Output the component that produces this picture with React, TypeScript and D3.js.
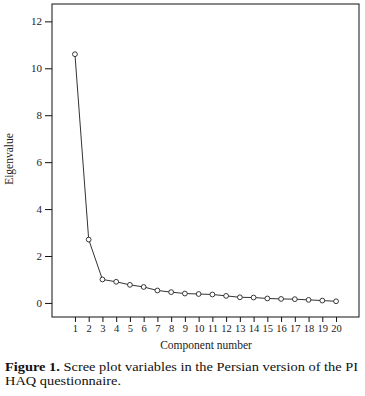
import React, { useEffect, useRef } from 'react';
import * as d3 from 'd3';

const components = d3.range(1, 21);
const eigenvalues = [10.6, 2.7, 1.0, 0.9, 0.77, 0.68, 0.53, 0.46, 0.4, 0.38,
    0.36, 0.3, 0.24, 0.23, 0.19, 0.17, 0.16, 0.13, 0.1, 0.07];
const yTicks = [0, 2, 4, 6, 8, 10, 12];

const W = 365;
const H = 396;
const box = {left: 52, right: 359, top: 4, bottom: 317};
const serif = '"Liberation Serif", "DejaVu Serif", serif';

const App = () => {
    const ref = useRef<SVGSVGElement>(null);

    useEffect(() => {
        const svg = d3.select(ref.current);
        svg.selectAll('*').remove();

        const x = d3.scaleLinear()
            .domain([-0.67, 21.67])
            .range([box.left, box.right]);
        const y = d3.scaleLinear()
            .domain([-0.6, 12.74])
            .range([box.bottom, box.top]);

        svg.append('rect')
            .attr('x', box.left)
            .attr('y', box.top)
            .attr('width', box.right - box.left)
            .attr('height', box.bottom - box.top)
            .attr('fill', 'none')
            .attr('stroke', '#111')
            .attr('stroke-width', 1);

        const yAxis = svg.append('g')
            .attr('transform', 'translate(' + box.left + ',0)')
            .call(d3.axisLeft(y).tickValues(yTicks).tickSize(7).tickPadding(3));
        yAxis.select('.domain').remove();
        yAxis.selectAll('line').attr('stroke', '#111');
        yAxis.selectAll('text')
            .attr('font-family', serif)
            .attr('font-size', 11)
            .attr('fill', '#222');

        const xAxis = svg.append('g')
            .attr('transform', 'translate(0,' + box.bottom + ')')
            .call(d3.axisBottom(x).tickValues(components).tickSize(5).tickPadding(3));
        xAxis.select('.domain').remove();
        xAxis.selectAll('line').attr('stroke', '#111');
        xAxis.selectAll('text')
            .attr('font-family', serif)
            .attr('font-size', 10.5)
            .attr('fill', '#222');

        const line = d3.line<number>()
            .x((d, i) => x(components[i]))
            .y(d => y(d));

        svg.append('path')
            .datum(eigenvalues)
            .attr('d', line)
            .attr('fill', 'none')
            .attr('stroke', '#333')
            .attr('stroke-width', 1);

        svg.append('g')
            .selectAll('circle')
            .data(eigenvalues)
            .enter().append('circle')
            .attr('cx', (d, i) => x(components[i]))
            .attr('cy', d => y(d))
            .attr('r', 2.4)
            .attr('fill', 'white')
            .attr('stroke', '#222')
            .attr('stroke-width', 0.9);

        svg.append('text')
            .attr('x', 206)
            .attr('y', 349)
            .attr('text-anchor', 'middle')
            .attr('font-family', serif)
            .attr('font-size', 11.5)
            .attr('fill', '#222')
            .text('Component number');

        svg.append('text')
            .attr('transform', 'translate(13,159) rotate(-90)')
            .attr('text-anchor', 'middle')
            .attr('font-family', serif)
            .attr('font-size', 11.5)
            .attr('fill', '#222')
            .text('Eigenvalue');

        // caption, stretched to the width it takes in the figure
        const cap1 = svg.append('text')
            .attr('x', 5)
            .attr('y', 371)
            .attr('font-family', serif)
            .attr('font-size', 13.5)
            .attr('textLength', 353)
            .attr('lengthAdjust', 'spacingAndGlyphs')
            .attr('fill', '#111');
        cap1.append('tspan')
            .attr('font-weight', 'bold')
            .text('Figure 1.');
        cap1.append('tspan')
            .text(' Scree plot variables in the Persian version of the PI');

        svg.append('text')
            .attr('x', 5)
            .attr('y', 385)
            .attr('font-family', serif)
            .attr('font-size', 13.5)
            .attr('textLength', 116)
            .attr('lengthAdjust', 'spacingAndGlyphs')
            .attr('fill', '#111')
            .text('HAQ questionnaire.');
    }, []);

    return (
        <svg ref={ref} width={W} height={H}
            style={{position: 'absolute', left: 0, top: 0}} />
    );
};

export default App;
